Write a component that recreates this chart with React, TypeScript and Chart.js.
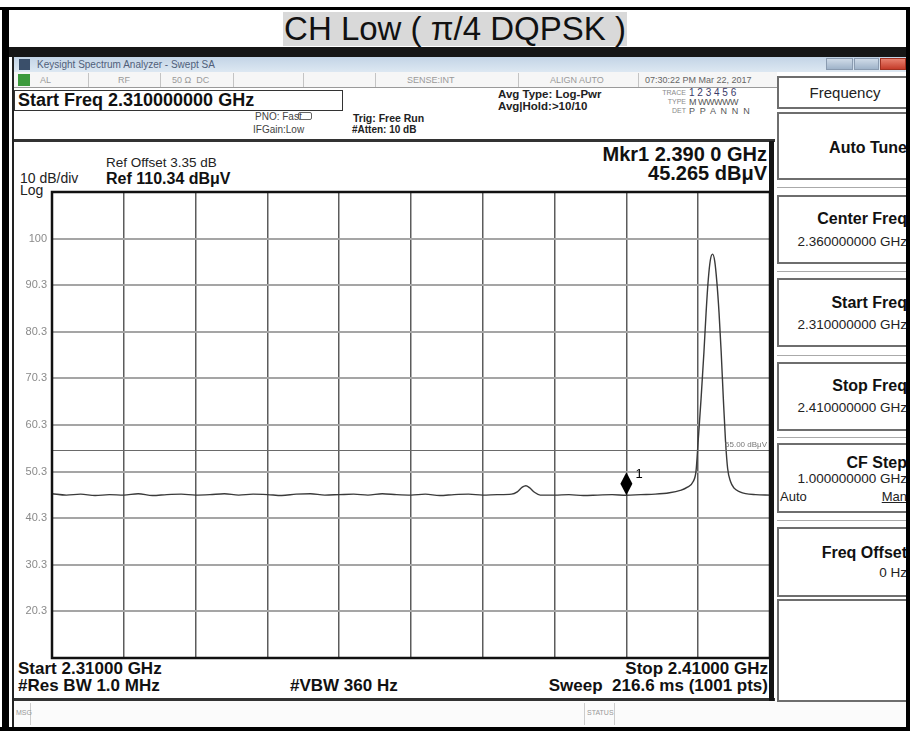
import React, { useEffect, useRef } from "react";
import { Chart, registerables } from "chart.js";

Chart.register(...registerables);

// ---- data ----
const FREQ_GHZ = [
  2.31, 2.312, 2.314, 2.316, 2.318, 2.32, 2.322, 2.324, 2.326, 2.328,
  2.33, 2.332, 2.334, 2.336, 2.338, 2.34, 2.342, 2.344, 2.346, 2.348,
  2.35, 2.352, 2.354, 2.356, 2.358, 2.36, 2.362, 2.364, 2.366, 2.368,
  2.37, 2.372, 2.374, 2.3748, 2.3755, 2.376, 2.3765, 2.3772, 2.378, 2.38,
  2.382, 2.384, 2.386, 2.388, 2.39, 2.392, 2.394, 2.396, 2.3975, 2.3985,
  2.3993, 2.3997, 2.4, 2.4004, 2.4008, 2.4011, 2.4014, 2.4017, 2.402, 2.4023,
  2.4026, 2.4029, 2.4032, 2.4035, 2.4038, 2.4041, 2.4045, 2.405, 2.4058, 2.4066,
  2.408, 2.41,
];
const LEVEL_DBUV = [
  45.6, 45.3, 45.5, 45.2, 45.4, 45.3, 45.6, 45.2, 45.4, 45.5,
  45.3, 45.4, 45.6, 45.3, 45.5, 45.4, 45.2, 45.5, 45.6, 45.3,
  45.4, 45.5, 45.3, 45.6, 45.4, 45.3, 45.5, 45.2, 45.4, 45.5,
  45.3, 45.4, 45.5, 46.0, 47.0, 47.3, 46.9, 45.9, 45.3, 45.3,
  45.4, 45.2, 45.3, 45.4, 45.265, 45.4, 45.5, 45.8, 46.3, 47.0,
  48.2, 50.5, 57.0, 66.0, 76.0, 84.5, 91.5, 95.8, 97.0, 95.5,
  91.0, 84.5, 76.0, 66.0, 57.0, 51.0, 48.2, 46.8, 46.0, 45.6,
  45.4, 45.3,
];
const X_TICK_VALUES = [2.31, 2.32, 2.33, 2.34, 2.35, 2.36, 2.37, 2.38, 2.39, 2.4, 2.41];
const Y_TICK_VALUES = [10.34, 20.34, 30.34, 40.34, 50.34, 60.34, 70.34, 80.34, 90.34, 100.34, 110.34];
const Y_TICK_LABELS = ["", "20.3", "30.3", "40.3", "50.3", "60.3", "70.3", "80.3", "90.3", "100", ""];
const MARKER_FREQ = 2.39;
const MARKER_LEVEL = 45.265;
const DISPLAY_LINE = 55.0;

const FONT = '"Liberation Sans", Arial, Helvetica, sans-serif';

type TP = {
  x: number; y: number; s?: number; b?: boolean; c?: string; a?: "left" | "right" | "center";
  children: React.ReactNode; st?: React.CSSProperties;
};
function T({ x, y, s = 12, b = false, c = "#111", a = "left", children, st }: TP) {
  const lh = Math.round(s * 1.2);
  const style: React.CSSProperties = {
    position: "absolute", top: y - lh / 2, lineHeight: lh + "px", fontSize: s,
    fontWeight: b ? 700 : 400, color: c, whiteSpace: "nowrap", fontFamily: FONT, ...st,
  };
  if (a === "right") style.right = 910 - x;
  else if (a === "center") { style.left = x - 200; style.width = 400; style.textAlign = "center"; }
  else style.left = x;
  return <div style={style}>{children}</div>;
}

function R({ l, t, w, h, bg, st }: { l: number; t: number; w: number; h: number; bg?: string; st?: React.CSSProperties }) {
  return <div style={{ position: "absolute", left: l, top: t, width: w, height: h, background: bg, boxSizing: "border-box", ...st }} />;
}

const overlay = {
  id: "overlay",
  afterDatasetsDraw(chart: any) {
    const { ctx, chartArea: a, scales } = chart;
    const xs = scales.x, ys = scales.y;
    ctx.save();
    // display line
    const y55 = Math.round(ys.getPixelForValue(DISPLAY_LINE)) + 0.5;
    ctx.strokeStyle = "#6a6a6a";
    ctx.lineWidth = 1;
    ctx.beginPath();
    ctx.moveTo(a.left, y55);
    ctx.lineTo(a.right, y55);
    ctx.stroke();
    ctx.fillStyle = "#777";
    ctx.font = "8px " + FONT;
    ctx.textAlign = "right";
    ctx.textBaseline = "bottom";
    ctx.fillText("55.00 dB\u03bcV", a.right - 3, y55 - 2);
    // marker
    const px = xs.getPixelForValue(MARKER_FREQ);
    const py = ys.getPixelForValue(MARKER_LEVEL);
    ctx.fillStyle = "#000";
    ctx.beginPath();
    ctx.moveTo(px, py - 23);
    ctx.lineTo(px + 6, py - 11.5);
    ctx.lineTo(px, py);
    ctx.lineTo(px - 6, py - 11.5);
    ctx.closePath();
    ctx.fill();
    ctx.font = "13px " + FONT;
    ctx.textAlign = "left";
    ctx.textBaseline = "alphabetic";
    ctx.fillText("1", px + 9, py - 17);
    // frame
    ctx.strokeStyle = "#111";
    ctx.lineWidth = 2.5;
    ctx.strokeRect(a.left, a.top, a.right - a.left, a.bottom - a.top);
    ctx.restore();
  },
};

function SoftKey({ t, h }: { t: number; h: number }) {
  return <R l={777} t={t} w={140} h={h} bg="#fff" st={{ border: "2px solid #6e6e6e", borderRight: "none" }} />;
}

export default function App() {
  const ref = useRef<HTMLCanvasElement>(null);
  useEffect(() => {
    const points = FREQ_GHZ.map((f, i) => ({ x: f, y: LEVEL_DBUV[i] }));
    const chart = new Chart(ref.current as HTMLCanvasElement, {
      type: "line",
      data: {
        datasets: [
          {
            data: points,
            borderColor: "#3a3a3a",
            borderWidth: 1.4,
            pointRadius: 0,
            cubicInterpolationMode: "monotone",
            fill: false,
          } as any,
        ],
      },
      options: {
        responsive: false,
        animation: false,
        devicePixelRatio: 1,
        layout: { padding: { left: 0, top: 192, right: 140, bottom: 73 } },
        plugins: { legend: { display: false }, tooltip: { enabled: false }, title: { display: false } },
        scales: {
          x: {
            type: "linear",
            min: 2.31,
            max: 2.41,
            afterBuildTicks: (s: any) => { s.ticks = X_TICK_VALUES.map((v) => ({ value: v })); },
            afterFit: (s: any) => { s.height = 0; },
            ticks: { display: false },
            grid: { color: "#5c5c5c", lineWidth: 1.5, drawTicks: false },
            border: { display: false },
          },
          y: {
            type: "linear",
            min: 10.34,
            max: 110.34,
            afterBuildTicks: (s: any) => { s.ticks = Y_TICK_VALUES.map((v) => ({ value: v })); },
            afterFit: (s: any) => { s.width = 52; },
            ticks: {
              padding: 5,
              color: "#8a8a8a",
              font: { family: FONT, size: 11 },
              autoSkip: false,
              callback: (v: any) => {
                const k = Y_TICK_VALUES.findIndex((t) => Math.abs(t - Number(v)) < 1e-6);
                return k >= 0 ? Y_TICK_LABELS[k] : "";
              },
            },
            grid: { color: "#a5a5a5", lineWidth: 2, drawTicks: false },
            border: { display: false },
          },
        },
      },
      plugins: [overlay],
    });
    return () => chart.destroy();
  }, []);

  const statusSeps = [88, 160, 233, 303, 375, 518, 638];

  return (
    <div style={{ position: "absolute", left: 0, top: 0, width: 910, height: 731, overflow: "hidden", background: "#fff", fontFamily: FONT }}>
      {/* title */}
      <div style={{ position: "absolute", left: 0, top: 12, width: 910, textAlign: "center" }}>
        <span style={{ background: "#d9d9d9", fontSize: 33, lineHeight: "34px", color: "#111", fontFamily: FONT, display: "inline-block", padding: "0 1px" }}>
          CH Low ( π/4 DQPSK )
        </span>
      </div>

      {/* window top border and title bar */}
      <R l={9} t={47} w={897} h={10} bg="#161616" />
      <R l={12} t={57} w={894} h={15} bg="linear-gradient(#c3d4e6, #dde8f2)" />
      <R l={19} t={59} w={11} h={11} bg="#3a4f6a" />
      <T x={37} y={65} s={10} c="#50607a">Keysight Spectrum Analyzer - Swept SA</T>
      <R l={826} t={58} w={27} h={12} bg="linear-gradient(#cfdbe8, #9fb3c9)" st={{ border: "1px solid #8a9bb0" }} />
      <R l={854} t={58} w={25} h={12} bg="linear-gradient(#cfdbe8, #9fb3c9)" st={{ border: "1px solid #8a9bb0" }} />
      <R l={880} t={58} w={26} h={12} bg="linear-gradient(#e8806e, #c43c2a)" st={{ border: "1px solid #a03020" }} />

      {/* status row */}
      <R l={12} t={72} w={765} h={16} bg="#f6f6f6" st={{ borderBottom: "1px solid #9a9a9a" }} />
      <R l={18} t={74} w={12} h={12} bg="#3d9a3d" />
      {statusSeps.map((x) => (
        <R key={x} l={x} t={73} w={1} h={14} bg="#c4c4c4" />
      ))}
      <T x={40} y={80} s={9} c="#9a9a9a">AL</T>
      <T x={118} y={80} s={9} c="#9a9a9a">RF</T>
      <T x={172} y={80} s={9} c="#9a9a9a">50 Ω&nbsp;&nbsp;DC</T>
      <T x={407} y={80} s={9} c="#9a9a9a">SENSE:INT</T>
      <T x={550} y={80} s={9} c="#9a9a9a">ALIGN AUTO</T>
      <T x={645} y={80} s={9} c="#666">07:30:22 PM Mar 22, 2017</T>

      {/* meas bar */}
      <R l={14} t={90} w={329} h={21} st={{ border: "1px solid #333" }} />
      <T x={18} y={100} s={18} b>Start Freq 2.310000000 GHz</T>
      <T x={255} y={117} s={10} c="#444">PNO: Fast</T>
      <R l={298} t={112} w={14} h={8} st={{ border: "1px solid #666", borderRadius: 2 }} />
      <T x={253} y={130} s={10} c="#444">IFGain:Low</T>
      <T x={353} y={118} s={10.5} b c="#222">Trig: Free Run</T>
      <T x={352} y={130} s={10} b c="#222">#Atten: 10 dB</T>
      <T x={498} y={94} s={11.5} b c="#222">Avg Type: Log-Pwr</T>
      <T x={498} y={106} s={11.5} b c="#222">Avg|Hold:&gt;10/10</T>
      <T x={686} y={93} s={7} c="#8a8a8a" a="right">TRACE</T>
      <T x={689} y={93} s={10} c="#3a3a6a">1 2 3 4 5 6</T>
      <T x={686} y={102} s={7} c="#8a8a8a" a="right">TYPE</T>
      <T x={689} y={102} s={9} c="#555" st={{ letterSpacing: -0.5 }}>M WWWWW</T>
      <T x={686} y={111} s={7} c="#8a8a8a" a="right">DET</T>
      <T x={689} y={111} s={9} c="#555" st={{ letterSpacing: 1.2 }}>P P A N N N</T>
      <R l={12} t={139} w={763} h={3} bg="#333" />

      {/* display area texts */}
      <T x={20} y={178} s={14} c="#222">10 dB/div</T>
      <T x={20} y={190} s={14} c="#222">Log</T>
      <T x={106} y={163} s={13.5} c="#222">Ref Offset 3.35 dB</T>
      <T x={106} y={178} s={16} b c="#111">Ref 110.34 dBμV</T>
      <T x={767} y={154} s={20} b a="right">Mkr1 2.390 0 GHz</T>
      <T x={767} y={173} s={20} b a="right">45.265 dBμV</T>

      <T x={18} y={669} s={17} b>Start 2.31000 GHz</T>
      <T x={768} y={669} s={17} b a="right">Stop 2.41000 GHz</T>
      <T x={18} y={686} s={17} b>#Res BW 1.0 MHz</T>
      <T x={290} y={686} s={17} b>#VBW 360 Hz</T>
      <T x={768} y={686} s={17} b a="right">Sweep&nbsp;&nbsp;216.6 ms (1001 pts)</T>
      <R l={12} t={698} w={763} h={3} bg="#333" />
      <R l={769} t={141} w={5} h={560} bg="#141414" />

      {/* msg bar */}
      <R l={12} t={701} w={894} h={26} bg="#fbfbfb" />
      <R l={30} t={703} w={1} h={22} bg="#ccc" />
      <R l={584} t={703} w={1} h={22} bg="#ccc" />
      <R l={614} t={703} w={1} h={22} bg="#ccc" />
      <T x={16} y={713} s={7} c="#999">MSG</T>
      <T x={587} y={713} s={7} c="#999">STATUS</T>

      {/* softkeys */}
      <SoftKey t={76} h={33} />
      <T x={845} y={93} s={15} c="#222" a="center">Frequency</T>
      <SoftKey t={112} h={68} />
      <T x={907} y={147} s={16} b a="right">Auto Tune</T>
      <R l={777} t={187} w={140} h={1} bg="#aaa" />
      <SoftKey t={195} h={69} />
      <T x={907} y={218} s={16} b a="right">Center Freq</T>
      <T x={907} y={242} s={13.5} c="#222" a="right">2.360000000 GHz</T>
      <R l={777} t={271} w={140} h={1} bg="#aaa" />
      <SoftKey t={278} h={69} />
      <T x={907} y={302} s={16} b a="right">Start Freq</T>
      <T x={907} y={325} s={13.5} c="#222" a="right">2.310000000 GHz</T>
      <R l={777} t={355} w={140} h={1} bg="#aaa" />
      <SoftKey t={362} h={69} />
      <T x={907} y={385} s={16} b a="right">Stop Freq</T>
      <T x={907} y={408} s={13.5} c="#222" a="right">2.410000000 GHz</T>
      <R l={777} t={437} w={140} h={1} bg="#aaa" />
      <SoftKey t={443} h={70} />
      <T x={907} y={462} s={16} b a="right">CF Step</T>
      <T x={907} y={479} s={13.5} c="#222" a="right">1.000000000 GHz</T>
      <T x={780} y={497} s={13} c="#222">Auto</T>
      <T x={907} y={497} s={13} c="#222" a="right" st={{ textDecoration: "underline" }}>Man</T>
      <R l={777} t={520} w={140} h={1} bg="#aaa" />
      <SoftKey t={527} h={70} />
      <T x={907} y={552} s={16} b a="right">Freq Offset</T>
      <T x={907} y={573} s={13.5} c="#222" a="right">0 Hz</T>
      <SoftKey t={599} h={103} />

      <canvas ref={ref} width={910} height={731} style={{ position: "absolute", left: 0, top: 0, width: 910, height: 731 }} />

      {/* outer frame */}
      <R l={0} t={7} w={910} h={3} bg="#000" />
      <R l={2} t={7} w={7} h={724} bg="#000" />
      <R l={12} t={57} w={2} h={670} bg="#222" />
      <R l={906} t={7} w={4} h={724} bg="#000" />
      <R l={0} t={727} w={910} h={4} bg="#000" />
    </div>
  );
}
